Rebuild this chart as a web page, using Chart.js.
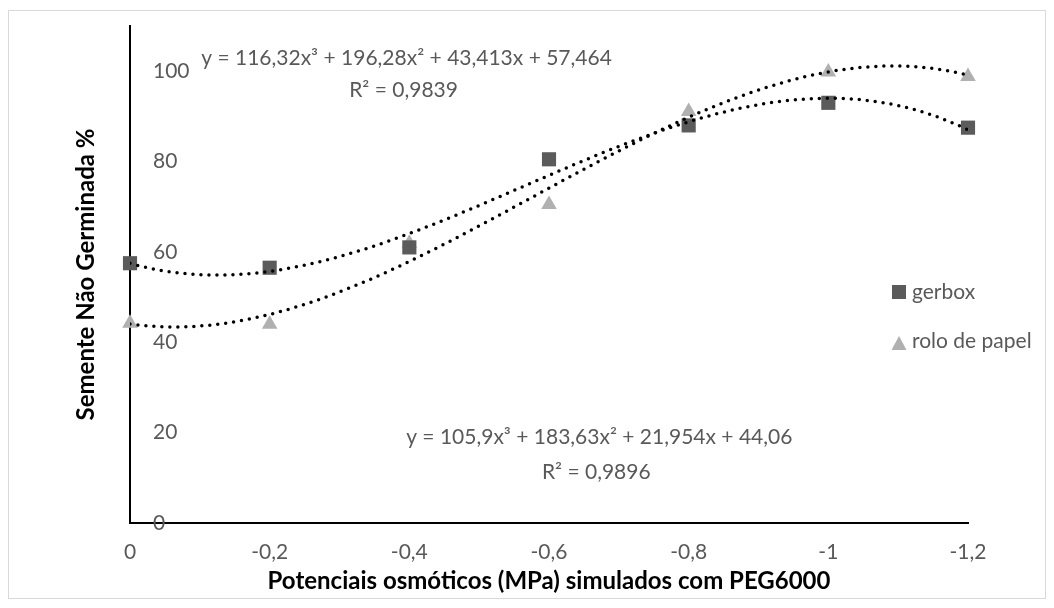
<!DOCTYPE html>
<html>
<head>
<meta charset="utf-8">
<script src="https://cdn.jsdelivr.net/npm/chart.js@4.4.1/dist/chart.umd.min.js"></script>
<style>
  html, body { margin: 0; padding: 0; background: #fff; }
  #wrap { width: 1054px; height: 608px; }
</style>
</head>
<body>
<div id="wrap"><canvas id="chart"></canvas></div>
<script>
// Potenciais osmóticos (MPa) e sementes não germinadas (%)
const potenciais = [0, -0.2, -0.4, -0.6, -0.8, -1, -1.2];
const gerbox = [57.5, 56.5, 61.0, 80.5, 88.0, 93.0, 87.5];
const roloPapel = [44.2, 44.0, 61.9, 70.5, 91.1, 99.8, 98.8];
const yTicks = [0, 20, 40, 60, 80, 100];

// Linhas de tendência polinomiais de 3ª ordem (x³, x², x, constante)
const coefGerbox = [116.32, 196.28, 43.413, 57.464];
const coefRolo = [105.9, 183.63, 21.954, 44.06];
const eqGerbox = ['y = 116,32x³ + 196,28x² + 43,413x + 57,464', 'R² = 0,9839'];
const eqRolo = ['y = 105,9x³ + 183,63x² + 21,954x + 44,06', 'R² = 0,9896'];

const TEXT = '#595959';
const COR_GERBOX = '#5b5b5b';
const COR_ROLO = '#b0b0b0';
const FONT = 'Lato';

function poly(c, x) {
    return c[0] * x * x * x + c[1] * x * x + c[2] * x + c[3];
}

function trend(c) {
    const pts = [];
    for (let i = 0; i <= 120; i++) {
        const x = -i / 100;
        pts.push({ x: x, y: poly(c, x) });
    }
    return pts;
}

const toPoints = (ys) => potenciais.map((x, i) => ({ x: x, y: ys[i] }));
const fmt = (v) => String(Math.round(v * 10) / 10).replace('.', ',');

// borda externa do gráfico
const frame = {
    id: 'frame',
    beforeDraw(chart) {
        const ctx = chart.ctx;
        ctx.save();
        ctx.strokeStyle = '#d9d9d9';
        ctx.lineWidth = 1;
        ctx.strokeRect(8.5, 10.5, 1037, 588);
        ctx.restore();
    }
};

// equações e R² das linhas de tendência
const eqLabels = {
    id: 'eqLabels',
    afterDatasetsDraw(chart) {
        const { ctx, scales: { x, y } } = chart;
        const place = [
            { lines: eqGerbox, at: [-0.396, 102.8], gap: 32 },
            { lines: eqRolo, at: [-0.672, 19.0], gap: 35 }
        ];
        ctx.save();
        ctx.fillStyle = TEXT;
        ctx.font = '21px ' + FONT;
        ctx.textAlign = 'center';
        ctx.textBaseline = 'middle';
        place.forEach(p => {
            const px = x.getPixelForValue(p.at[0]);
            const py = y.getPixelForValue(p.at[1]);
            ctx.fillText(p.lines[0], px, py);
            ctx.fillText(p.lines[1], px - 3, py + p.gap);
        });
        ctx.restore();
    }
};

// legenda à direita, sobre a área do gráfico
const sideLegend = {
    id: 'sideLegend',
    afterDraw(chart) {
        const ctx = chart.ctx;
        const lx = chart.chartArea.right - 69;
        ctx.save();
        ctx.font = '21px ' + FONT;
        ctx.textBaseline = 'middle';
        ctx.textAlign = 'left';

        ctx.fillStyle = COR_GERBOX;
        ctx.fillRect(lx - 7, 285, 14, 14);
        ctx.fillStyle = TEXT;
        ctx.fillText('gerbox', lx + 13, 292);

        ctx.fillStyle = COR_ROLO;
        ctx.beginPath();
        ctx.moveTo(lx, 336);
        ctx.lineTo(lx + 7.5, 350);
        ctx.lineTo(lx - 7.5, 350);
        ctx.closePath();
        ctx.fill();
        ctx.fillStyle = TEXT;
        ctx.fillText('rolo de papel', lx + 13, 341);
        ctx.restore();
    }
};

Chart.defaults.font.family = FONT;
Chart.defaults.color = TEXT;

new Chart(document.getElementById('chart'), {
    type: 'scatter',
    data: {
        datasets: [
            {
                label: 'tendência gerbox',
                data: trend(coefGerbox),
                showLine: true,
                borderColor: '#000',
                borderWidth: 3.5,
                borderDash: [0, 8],
                borderCapStyle: 'round',
                pointRadius: 0,
                order: 0
            },
            {
                label: 'tendência rolo de papel',
                data: trend(coefRolo),
                showLine: true,
                borderColor: '#000',
                borderWidth: 3.5,
                borderDash: [0, 8],
                borderCapStyle: 'round',
                pointRadius: 0,
                order: 0
            },
            {
                label: 'gerbox',
                data: toPoints(gerbox),
                pointStyle: 'rect',
                pointRadius: 10,
                backgroundColor: COR_GERBOX,
                borderWidth: 0,
                clip: false,
                order: 1
            },
            {
                label: 'rolo de papel',
                data: toPoints(roloPapel),
                pointStyle: 'triangle',
                pointRadius: 9,
                backgroundColor: COR_ROLO,
                borderWidth: 0,
                clip: false,
                order: 1
            }
        ]
    },
    options: {
        responsive: true,
        maintainAspectRatio: false,
        animation: false,
        layout: { padding: { left: 68, right: 86, top: 26, bottom: 8 } },
        plugins: {
            legend: { display: false },
            tooltip: { enabled: false }
        },
        scales: {
            x: {
                type: 'linear',
                reverse: true,
                min: -1.2,
                max: 0,
                afterBuildTicks: (s) => { s.ticks = potenciais.map(v => ({ value: v })); },
                afterFit: (s) => { s.height = 77; s.paddingLeft = 0; s.paddingRight = 0; },
                grid: { display: false, drawTicks: false },
                border: { color: '#000', width: 2 },
                ticks: {
                    padding: 17,
                    color: TEXT,
                    font: { size: 21 },
                    callback: (v) => fmt(v)
                },
                title: {
                    display: true,
                    text: 'Potenciais osmóticos (MPa) simulados com PEG6000',
                    color: '#000',
                    font: { size: 24, weight: 'bold' }
                }
            },
            y: {
                min: 0,
                max: 110,
                afterBuildTicks: (s) => { s.ticks = yTicks.map(v => ({ value: v })); },
                afterFit: (s) => { s.width = 62; s.paddingTop = 0; s.paddingBottom = 0; },
                grid: { display: false, drawTicks: false },
                border: { color: '#000', width: 2 },
                ticks: {
                    mirror: true,
                    padding: 23,
                    color: TEXT,
                    font: { size: 21 }
                },
                title: {
                    display: true,
                    text: 'Semente Não Germinada %',
                    color: '#000',
                    font: { size: 24, weight: 'bold' }
                }
            }
        }
    },
    plugins: [frame, eqLabels, sideLegend]
});
</script>
</body>
</html>
